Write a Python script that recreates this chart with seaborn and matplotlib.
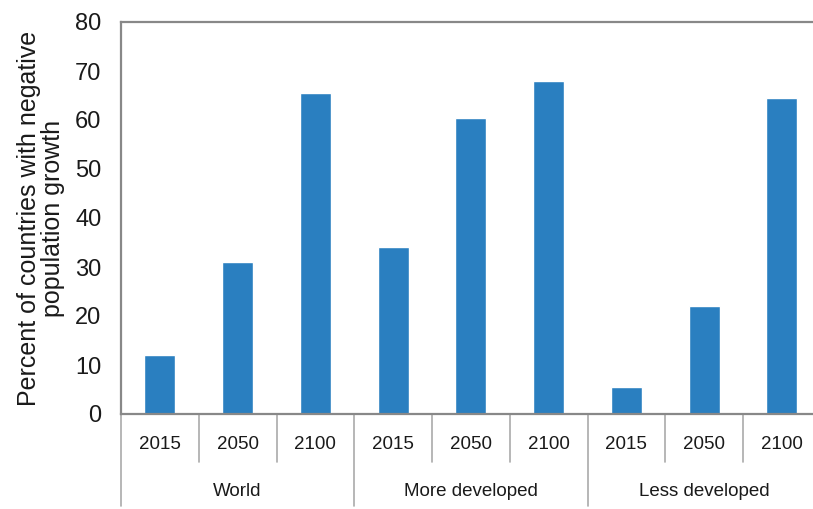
import matplotlib
matplotlib.use("Agg")
import matplotlib.pyplot as plt
import seaborn as sns
import pandas as pd

# data
groups = ["World", "More developed", "Less developed"]
years = ["2015", "2050", "2100"]
world = [12.0, 31.0, 65.5]
more_developed = [34.0, 60.5, 68.0]
less_developed = [5.5, 22.0, 64.5]

rows = []
for g, vals in zip(groups, [world, more_developed, less_developed]):
    for y, v in zip(years, vals):
        rows.append({"key": f"{g} {y}", "group": g, "year": y, "value": v})
df = pd.DataFrame(rows)

sns.set_style("white")
plt.rcParams["font.family"] = ["Liberation Sans", "DejaVu Sans"]

fig = plt.figure(figsize=(8.13, 5.09), dpi=100)
ax = fig.add_axes([121 / 813, 1 - 414 / 509, 1 - 121 / 813, (414 - 22) / 509])

sns.barplot(data=df, x="key", y="value", order=list(df["key"]),
            color="#2a7fc0", saturation=1, width=0.4, ax=ax)

ax.set_ylim(0, 80)
ax.set_yticks(range(0, 81, 10))
ax.set_xlim(-0.5, len(df) - 0.5 - 0.1)
ax.set_xlabel("")
ax.set_ylabel("Percent of countries with negative\npopulation growth",
              fontsize=18, color="#1a1a1a", labelpad=7, linespacing=1.05)

ax.tick_params(axis="y", direction="in", length=4, width=1, color="#888888",
               labelsize=17, labelcolor="#1a1a1a", pad=14)
ax.set_xticks(range(len(df)))
ax.set_xticklabels(df["year"])
ax.tick_params(axis="x", length=0, labelsize=13.5, labelcolor="#1a1a1a", pad=16)

for side in ["top", "left", "bottom"]:
    ax.spines[side].set_visible(True)
    ax.spines[side].set_color("#888888")
    ax.spines[side].set_linewidth(1.6)
ax.spines["right"].set_visible(False)

# category separators below the axis
trans = ax.get_xaxis_transform()
n = len(df)
for i in range(n):
    xpos = i - 0.5
    is_group = i % len(years) == 0
    y_end = -92 / 392 if is_group else -48 / 392
    ax.plot([xpos, xpos], [0, y_end], transform=trans, color="#aaaaaa",
            lw=1.2, clip_on=False)

# group labels
for gi, g in enumerate(groups):
    center = gi * len(years) + (len(years) - 1) / 2
    ax.text(center, -78 / 392, g, transform=trans, ha="center", va="center",
            fontsize=13.5, color="#1a1a1a")

fig.savefig("out.png", dpi=100)
